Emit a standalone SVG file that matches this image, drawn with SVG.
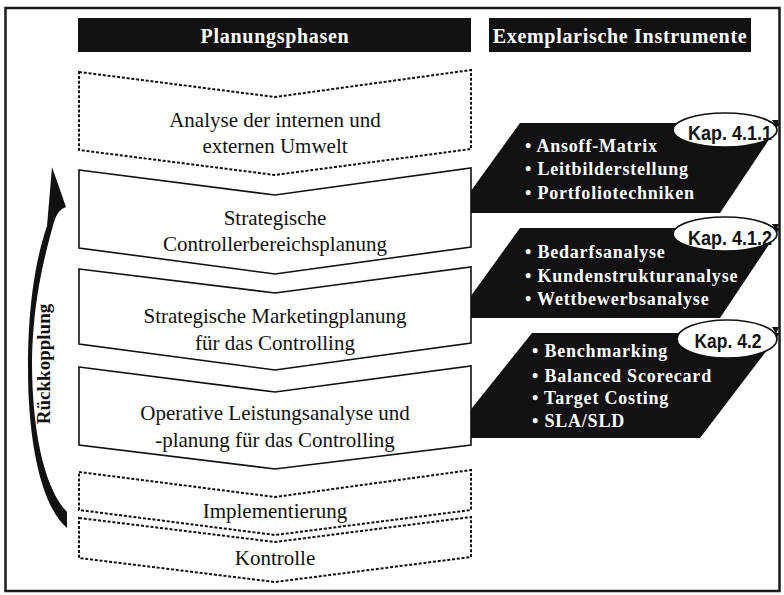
<svg xmlns="http://www.w3.org/2000/svg" width="784" height="595" viewBox="0 0 784 595">
<style>
.frame{fill:#fff;stroke:#1a1a1a;stroke-width:2.5}
.hdr{fill:#111}
.hdrt{fill:#fff;font-family:"Liberation Serif","Times New Roman",serif;font-weight:bold;font-size:20px;letter-spacing:0.7px;text-anchor:middle}
.ph{fill:#fff;stroke:#111;stroke-width:1.6;stroke-linejoin:miter}
.phd{fill:#fff;stroke:#111;stroke-width:2;stroke-dasharray:3 1.8}
.pt{fill:#111;font-family:"Liberation Serif","Times New Roman",serif;font-size:21px;text-anchor:middle}
.para{fill:#111}
.it{fill:#fff;font-family:"Liberation Serif","Times New Roman",serif;font-weight:bold;font-size:18px;letter-spacing:0.8px}
.oval{fill:#fff;stroke:#111;stroke-width:1.6}
.kap{fill:#111;font-family:"Liberation Sans",Arial,sans-serif;font-weight:bold;font-size:20px;text-anchor:middle}
.fb{fill:#111;font-family:"Liberation Serif","Times New Roman",serif;font-weight:bold;font-size:19px;text-anchor:middle}
</style>
<rect x="0" y="0" width="784" height="595" fill="#fff"/>
<rect class="frame" x="5.5" y="8" width="774" height="583"/>

<g id="header-planungsphasen">
<rect class="hdr" x="78" y="18" width="393" height="34"/>
<text class="hdrt" x="275" y="43">Planungsphasen</text>
</g>
<g id="header-instrumente">
<rect class="hdr" x="489" y="18" width="262" height="34"/>
<text class="hdrt" x="620" y="43">Exemplarische Instrumente</text>
</g>

<g id="instr1">
<polygon class="para" points="520,123 780,123 720,213 455,213"/>
<text class="it" x="525" y="152">• Ansoff-Matrix</text>
<text class="it" x="525" y="175">• Leitbilderstellung</text>
<text class="it" x="525" y="199">• Portfoliotechniken</text>
<ellipse class="oval" cx="725" cy="130" rx="52" ry="17"/>
<polygon points="772,120 779,120 776,127" fill="#111"/>
<text class="kap" x="730" y="140" textLength="84" lengthAdjust="spacingAndGlyphs">Kap. 4.1.1</text>
</g>
<g id="instr2">
<polygon class="para" points="520,228 780,228 720,318 455,318"/>
<text class="it" x="525" y="258">• Bedarfsanalyse</text>
<text class="it" x="525" y="282">• Kundenstrukturanalyse</text>
<text class="it" x="525" y="305">• Wettbewerbsanalyse</text>
<ellipse class="oval" cx="725" cy="234" rx="52" ry="17"/>
<polygon points="772,224 779,224 776,231" fill="#111"/>
<text class="kap" x="730" y="245" textLength="84" lengthAdjust="spacingAndGlyphs">Kap. 4.1.2</text>
</g>
<g id="instr3">
<polygon class="para" points="532,333 780,333 700,438 448,438"/>
<text class="it" x="532" y="357">• Benchmarking</text>
<text class="it" x="532" y="382">• Balanced Scorecard</text>
<text class="it" x="532" y="404">• Target Costing</text>
<text class="it" x="532" y="427">• SLA/SLD</text>
<ellipse class="oval" cx="727" cy="339" rx="50" ry="19"/>
<polygon points="772,327 779,327 776,334" fill="#111"/>
<text class="kap" x="728" y="348" textLength="67" lengthAdjust="spacingAndGlyphs">Kap. 4.2</text>
</g>

<g id="phase1">
<path class="phd" d="M79,72 L275,97 L471,70 L471,149 L275,175 L79,150 Z"/>
<text class="pt" x="275" y="127">Analyse der internen und</text>
<text class="pt" x="275" y="153">externen Umwelt</text>
</g>
<g id="phase2">
<path class="ph" d="M79,170 L275,195 L471,168 L471,247 L275,274 L79,248 Z"/>
<text class="pt" x="275" y="225">Strategische</text>
<text class="pt" x="275" y="251">Controllerbereichsplanung</text>
</g>
<g id="phase3">
<path class="ph" d="M79,269 L275,293 L471,267 L471,343 L275,370 L79,344 Z"/>
<text class="pt" x="275" y="323">Strategische Marketingplanung</text>
<text class="pt" x="275" y="350">für das Controlling</text>
</g>
<g id="phase4">
<path class="ph" d="M79,367 L275,392 L471,366 L471,445 L275,469 L79,445 Z"/>
<text class="pt" x="275" y="420">Operative Leistungsanalyse und</text>
<text class="pt" x="275" y="447">-planung für das Controlling</text>
</g>
<g id="phase5">
<path class="phd" d="M79,472 L275,497 L471,470 L471,510 L275,535 L79,510 Z"/>
<text class="pt" x="275" y="518">Implementierung</text>
</g>
<g id="phase6">
<path class="phd" d="M79,518 L275,542 L471,517 L471,557 L275,582 L79,558 Z"/>
<text class="pt" x="275" y="565">Kontrolle</text>
</g>

<g id="connectors">
<path fill="#111" d="M52,167 L66,207 Q58,209 54,222 C44,258 33,300 32,362 C32,430 44,488 67,512 L67,528 C42,507 28,445 28,368 C28,300 37,255 47,226 Z"/>
<text class="fb" transform="translate(50,364) rotate(-90)" x="0" y="0">Rückkopplung</text>
</g>
</svg>
